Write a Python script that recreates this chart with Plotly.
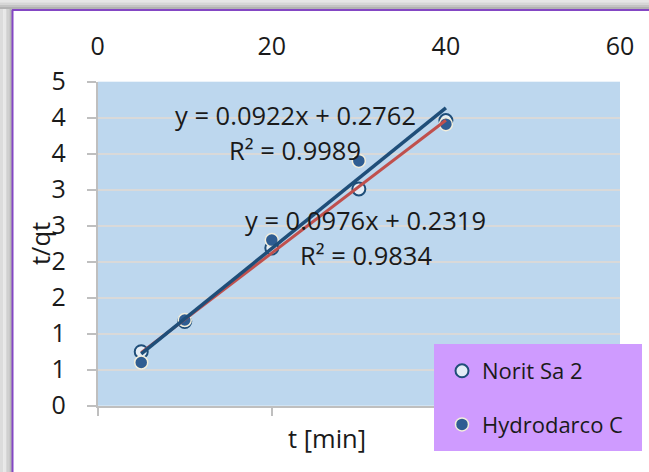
import plotly.graph_objects as go

# Contact time (min) and t/qt for the two activated carbons
t_min = [5, 10, 20, 30, 40]
norit_sa2 = [0.75, 1.17, 2.19, 3.01, 3.96]
hydrodarco_c = [0.60, 1.19, 2.30, 3.40, 3.91]

# Linear trend lines (slope, intercept, R²)
norit_fit = (0.0922, 0.2762, 0.9989)
hydro_fit = (0.0976, 0.2319, 0.9834)

x_ticks = [0, 20, 40, 60]
y_ticks = [0, 0.5, 1.0, 1.5, 2.0, 2.5, 3.0, 3.5, 4.0, 4.5]
y_tick_labels = ["0", "1", "1", "2", "2", "3", "3", "4", "4", "5"]

W, H = 649, 472
FONT = "Open Sans, Noto Sans, sans-serif"
TXT = "#1a1a1a"
BLUE = "#1f4e79"
RED = "#c0504d"
GRID = "#d9d9d9"
AXIS = "#bfbfbf"
FS = 25
FS_EQ = 25.5


def px_x(p):
    return p / W


def px_y(p):
    return 1 - p / H


fig = go.Figure()

# data markers
fig.add_trace(go.Scatter(
    x=t_min, y=norit_sa2, mode="markers", name="Norit Sa 2",
    legendgroup="a",
    marker=dict(size=13, color="#e4edf6", line=dict(color=BLUE, width=2)),
))
fig.add_trace(go.Scatter(
    x=t_min, y=hydrodarco_c, mode="markers", name="Hydrodarco C",
    legendgroup="b",
    marker=dict(size=13, color="#2f5d92", line=dict(color="#f2eedc", width=1.5)),
))

# trend lines over the data range
x0, x1 = min(t_min), max(t_min)
for (m, b, _), col, w in [(norit_fit, RED, 3), (hydro_fit, BLUE, 3.5)]:
    fig.add_trace(go.Scatter(
        x=[x0, x1], y=[m * x0 + b, m * x1 + b], mode="lines",
        line=dict(color=col, width=w), showlegend=False, hoverinfo="skip",
    ))

# invisible trace so the top axis carries its labels
fig.add_trace(go.Scatter(x=[0], y=[0], xaxis="x2", mode="markers",
                         marker=dict(opacity=0), showlegend=False,
                         hoverinfo="skip"))

dom_x = [px_x(97.7), px_x(620)]
dom_y = [px_y(405.7), px_y(81.7)]

fig.update_layout(
    template="none",
    width=W, height=H, autosize=False,
    margin=dict(l=0, r=0, t=0, b=0, pad=0, autoexpand=False),
    paper_bgcolor="white", plot_bgcolor="#bdd7ee",
    font=dict(family=FONT, size=FS, color=TXT),
    xaxis=dict(
        domain=dom_x, range=[0, 60], tickvals=x_ticks, showticklabels=False,
        showgrid=False, zeroline=False, showline=True, linecolor=AXIS,
        linewidth=2, ticks="outside", ticklen=8, tickwidth=2, tickcolor=AXIS,
        automargin=False,
    ),
    xaxis2=dict(
        overlaying="x", side="top", anchor="y", range=[0, 60],
        tickvals=x_ticks, showgrid=False, zeroline=False, showline=False,
        ticks="", ticklabelstandoff=21, automargin=False,
        tickfont=dict(family=FONT, size=FS, color=TXT),
    ),
    yaxis=dict(
        domain=dom_y, range=[0, 4.5], tickvals=y_ticks, ticktext=y_tick_labels,
        showgrid=True, gridcolor=GRID, gridwidth=2, zeroline=False,
        showline=True, linecolor=AXIS, linewidth=2, ticks="outside",
        ticklen=9, tickwidth=2, tickcolor=AXIS, ticklabelstandoff=16,
        automargin=False,
        tickfont=dict(family=FONT, size=FS, color=TXT),
    ),
    legend=dict(
        x=px_x(442), y=px_y(350), xanchor="left", yanchor="top",
        bgcolor="rgba(0,0,0,0)", borderwidth=0, traceorder="grouped",
        tracegroupgap=22, font=dict(family=FONT, size=22, color=TXT),
        itemsizing="trace",
    ),
    showlegend=True,
)

shapes = []
# outer shading beyond the chart frame
top_greys = ["#e6e6e6", "#d6d6d6", "#c4c4c4", "#b2b2b2"]
for i, g in enumerate(top_greys):
    y_a, y_b = i * 2.3, (i + 1) * 2.3
    shapes.append(dict(type="rect", xref="paper", yref="paper",
                       x0=0, x1=1, y0=px_y(y_b), y1=px_y(y_a),
                       fillcolor=g, line=dict(width=0), layer="below"))
left_greys = ["#dcdcdc", "#e8e8e8", "#d0d0d0", "#b8b8b8"]
for i, g in enumerate(left_greys):
    x_a, x_b = i * 3.1, (i + 1) * 3.1
    shapes.append(dict(type="rect", xref="paper", yref="paper",
                       x0=px_x(x_a), x1=px_x(x_b), y0=0, y1=px_y(9),
                       fillcolor=g, line=dict(width=0), layer="below"))
# chart frame edges
shapes.append(dict(type="line", xref="paper", yref="paper",
                   x0=px_x(12), x1=1, y0=px_y(10), y1=px_y(10),
                   line=dict(color="#8447c4", width=2)))
shapes.append(dict(type="line", xref="paper", yref="paper",
                   x0=px_x(12.5), x1=px_x(12.5), y0=0, y1=px_y(10),
                   line=dict(color="#8447c4", width=2)))
# legend panel
shapes.append(dict(type="rect", xref="paper", yref="paper",
                   x0=px_x(434), x1=px_x(642), y0=px_y(451), y1=px_y(344),
                   fillcolor="#cf9bff", line=dict(width=0), layer="above"))
fig.update_layout(shapes=shapes)

# axis titles and trend-line equations
ann = [
    dict(text="t/qt", x=px_x(40), y=px_y(244), textangle=-90),
    dict(text="t [min]", x=px_x(327), y=px_y(438)),
]
for (m, b, r2), cx, cy in [(norit_fit, 295, 115), (hydro_fit, 366, 220)]:
    ann.append(dict(text=f"y = {m:.4f}x + {b:.4f}", x=px_x(cx), y=px_y(cy)))
    ann.append(dict(text=f"R² = {r2:.4f}", x=px_x(cx), y=px_y(cy + 35)))
for a in ann:
    a.update(xref="paper", yref="paper", showarrow=False,
             xanchor="center", yanchor="middle",
             font=dict(family=FONT, size=FS_EQ, color=TXT))
fig.update_layout(annotations=ann)

fig.write_html("out.html")
